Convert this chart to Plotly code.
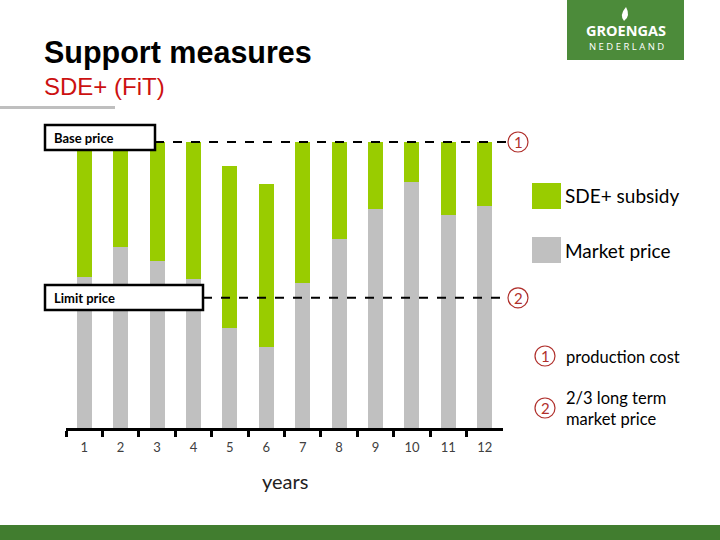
import plotly.graph_objects as go

# ---------------- data ----------------
years = ["1", "2", "3", "4", "5", "6", "7", "8", "9", "10", "11", "12"]
market_price = [52.9, 63.4, 58.4, 52.1, 35.0, 28.3, 50.8, 66.1, 76.6, 86.1, 74.5, 77.6]
total_cost = [100, 100, 100, 100, 91.6, 85.3, 100, 100, 100, 100, 100, 100]
sde_subsidy = [round(t - m, 1) for t, m in zip(total_cost, market_price)]
base_price = 100
limit_price = 45.5

W, H = 720, 540
GREEN = "#99CC00"
GRAY = "#C0C0C0"
RED = "#B0302C"
FONT = "Lato"


def px(x):
    return x / W


def py(y):
    return 1 - y / H


fig = go.Figure()
fig.add_trace(go.Bar(x=years, y=market_price, name="Market price",
                     marker=dict(color=GRAY, line=dict(width=0)), width=0.41))
fig.add_trace(go.Bar(x=years, y=sde_subsidy, name="SDE+ subsidy",
                     marker=dict(color=GREEN, line=dict(width=0)), width=0.41))

shapes = []
annotations = []

# header decoration
shapes.append(dict(type="rect", xref="paper", yref="paper", x0=px(0), x1=px(115),
                   y0=py(109), y1=py(106), fillcolor="#BFBFBF", line=dict(width=0), layer="below"))
shapes.append(dict(type="rect", xref="paper", yref="paper", x0=0, x1=1,
                   y0=0, y1=py(525), fillcolor="#417D2F", line=dict(width=0)))
# logo
shapes.append(dict(type="rect", xref="paper", yref="paper", x0=px(567), x1=px(684),
                   y0=py(60), y1=1, fillcolor="#4C8B3A", line=dict(width=0)))
flame = "M {a} {b} Q {c} {d} {e} {f} Q {g} {h} {a} {b} Z".format(
    a=px(626), b=py(7), c=px(619), d=py(15), e=px(624), f=py(21), g=px(631), h=py(16))
shapes.append(dict(type="path", xref="paper", yref="paper", path=flame,
                   fillcolor="white", line=dict(width=0)))
annotations.append(dict(x=px(626), y=py(30), xref="paper", yref="paper", text="<b>GROENGAS</b>",
                        showarrow=False, font=dict(family="Open Sans", size=14.5, color="white"),
                        xanchor="center", yanchor="middle"))
annotations.append(dict(x=px(626), y=py(46.5), xref="paper", yref="paper", text="N E D E R L A N D",
                        showarrow=False, font=dict(family="Open Sans", size=9.5, color="white"),
                        xanchor="center", yanchor="middle"))

# titles
annotations.append(dict(x=px(42), y=py(53), xref="paper", yref="paper", text="<b>Support measures</b>",
                        showarrow=False, font=dict(family="Liberation Sans", size=30.5, color="black"),
                        xanchor="left", yanchor="middle"))
annotations.append(dict(x=px(42), y=py(87), xref="paper", yref="paper", text="SDE+ (FiT)",
                        showarrow=False, font=dict(family="Liberation Sans", size=24, color="#CC1111"),
                        xanchor="left", yanchor="middle"))

# reference lines with label boxes and circled numbers
for val, label, box_right, num in [(base_price, "Base price", 155, "1"),
                                   (limit_price, "Limit price", 203, "2")]:
    shapes.append(dict(type="line", xref="paper", yref="y", x0=px(box_right), x1=px(507),
                       y0=val, y1=val, line=dict(color="black", width=2, dash="dash")))
    shapes.append(dict(type="circle", xref="paper", yref="y", x0=px(508), x1=px(528),
                       y0=val - 10 / 2.86, y1=val + 10 / 2.86,
                       line=dict(color=RED, width=1.2), fillcolor="white"))
    annotations.append(dict(x=px(518), y=val, xref="paper", yref="y", text=num, showarrow=False,
                            font=dict(family=FONT, size=15, color=RED),
                            xanchor="center", yanchor="middle"))

shapes.append(dict(type="rect", xref="paper", yref="paper", x0=px(45), x1=px(155),
                   y0=py(150), y1=py(125), line=dict(color="black", width=2.5), fillcolor="white"))
annotations.append(dict(x=px(52), y=py(137.5), xref="paper", yref="paper", text="<b>Base price</b>",
                        showarrow=False, font=dict(family=FONT, size=13, color="black"),
                        xanchor="left", yanchor="middle"))
shapes.append(dict(type="rect", xref="paper", yref="paper", x0=px(45), x1=px(203),
                   y0=py(310), y1=py(285), line=dict(color="black", width=2.5), fillcolor="white"))
annotations.append(dict(x=px(52), y=py(297.5), xref="paper", yref="paper", text="<b>Limit price</b>",
                        showarrow=False, font=dict(family=FONT, size=13, color="black"),
                        xanchor="left", yanchor="middle"))

# custom legend
for y0, y1, color, text in [(183, 209, GREEN, "SDE+ subsidy"), (237, 263, GRAY, "Market price")]:
    shapes.append(dict(type="rect", xref="paper", yref="paper", x0=px(532), x1=px(561),
                       y0=py(y1), y1=py(y0), fillcolor=color, line=dict(width=0)))
    annotations.append(dict(x=px(563), y=py((y0 + y1) / 2), xref="paper", yref="paper", text=text,
                            showarrow=False, font=dict(family=FONT, size=19, color="black"),
                            xanchor="left", yanchor="middle"))

# explanatory notes
for cy, num in [(356, "1"), (408, "2")]:
    shapes.append(dict(type="circle", xref="paper", yref="paper", x0=px(535), x1=px(555),
                       y0=py(cy + 10), y1=py(cy - 10), line=dict(color=RED, width=1.2)))
    annotations.append(dict(x=px(545), y=py(cy), xref="paper", yref="paper", text=num, showarrow=False,
                            font=dict(family=FONT, size=15, color=RED),
                            xanchor="center", yanchor="middle"))
annotations.append(dict(x=px(564), y=py(357), xref="paper", yref="paper", text="production cost",
                        showarrow=False, font=dict(family=FONT, size=16.5, color="black"),
                        xanchor="left", yanchor="middle"))
annotations.append(dict(x=px(564), y=py(408), xref="paper", yref="paper",
                        text="2/3 long term<br>market price", align="left",
                        showarrow=False, font=dict(family=FONT, size=16.5, color="black"),
                        xanchor="left", yanchor="middle"))

# axis title
annotations.append(dict(x=px(285), y=py(481), xref="paper", yref="paper", text="years",
                        showarrow=False, font=dict(family=FONT, size=20, color="#222222"),
                        xanchor="center", yanchor="middle"))

fig.update_layout(
    width=W, height=H, margin=dict(l=0, r=0, t=0, b=0),
    paper_bgcolor="white", plot_bgcolor="white",
    barmode="stack", bargap=0, showlegend=False,
    xaxis=dict(domain=[px(66), px(503)], type="category", range=[-0.5, 11.5],
               showline=True, linecolor="black", linewidth=3,
               ticks="outside", tickson="boundaries", ticklen=6, tickwidth=3, tickcolor="black",
               ticklabelstandoff=5,
               tickfont=dict(family=FONT, size=13, color="#404040"),
               showgrid=False, zeroline=False, fixedrange=True),
    yaxis=dict(domain=[py(428), py(428 - 105 * 2.86)], range=[0, 105], visible=False,
               showgrid=False, zeroline=False, fixedrange=True),
    shapes=shapes, annotations=annotations,
)

fig.write_html("out.html", config={"displayModeBar": False},
               post_script="document.body.style.margin='0';")
